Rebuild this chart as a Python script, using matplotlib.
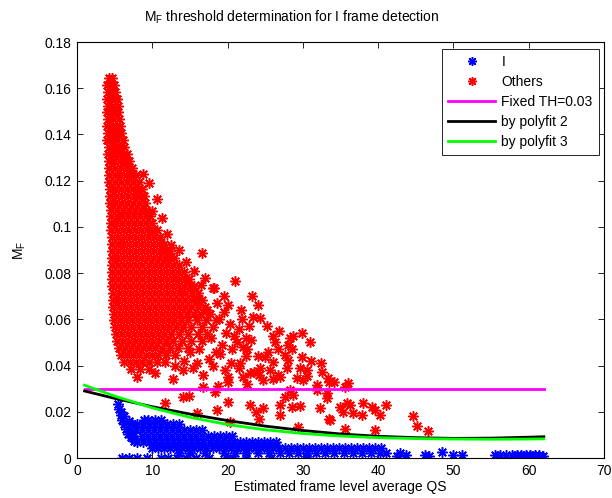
import numpy as np
import matplotlib
matplotlib.use("Agg")
import matplotlib.pyplot as plt

plt.rcParams['font.family'] = ['Liberation Sans', 'DejaVu Sans']
plt.rcParams['font.size'] = 10
plt.rcParams['mathtext.default'] = 'regular'

# ---- "Others" : dense core, one list of x per row level ----
others_row_y = [0.1645, 0.1615, 0.1585, 0.1555, 0.1525, 0.1495, 0.1465, 0.1435,
                0.1405, 0.1375, 0.1345, 0.1315, 0.1285, 0.1255, 0.1225, 0.1195,
                0.1165, 0.1135, 0.1105, 0.1075, 0.1045, 0.1015, 0.0985, 0.0955,
                0.0925, 0.0895, 0.0865, 0.0835, 0.0805, 0.0775, 0.0745, 0.0715,
                0.0685, 0.0655, 0.0625, 0.0595, 0.0565, 0.0535, 0.0505, 0.0475,
                0.0445, 0.0415, 0.0385]
others_row_x = [
    [4.2, 4.6],
    [4.0, 4.5, 4.9],
    [4.1, 4.6, 5.0],
    [4.0, 4.5, 5.0, 5.3],
    [4.1, 4.7, 5.4],
    [4.0, 4.6, 5.1, 5.5],
    [4.1, 4.8, 5.6],
    [4.0, 4.6, 5.2, 5.7],
    [4.1, 4.8, 5.4, 5.9],
    [4.0, 4.7, 5.3, 6.1],
    [4.2, 4.9, 5.6, 6.3],
    [4.1, 4.8, 5.5, 6.1, 6.6],
    [4.2, 4.9, 5.7, 6.4, 6.9],
    [4.2, 5.0, 5.8, 6.6, 7.3],
    [4.3, 5.0, 5.7, 6.5, 7.2, 7.8],
    [4.3, 5.1, 5.9, 6.7, 7.5, 8.3],
    [4.4, 5.1, 5.9, 6.6, 7.4, 8.1, 8.6],
    [4.4, 5.2, 6.0, 6.8, 7.6, 8.3, 8.9],
    [4.4, 5.1, 5.9, 6.7, 7.5, 8.3, 9.0],
    [4.5, 5.3, 6.1, 6.9, 7.7, 8.5, 9.2],
    [4.5, 5.3, 6.0, 6.8, 7.6, 8.4, 9.1, 9.7],
    [4.5, 5.2, 6.0, 6.8, 7.6, 8.4, 9.2, 10.0],
    [4.5, 5.3, 6.1, 6.9, 7.7, 8.5, 9.3, 10.0, 10.6],
    [4.6, 5.4, 6.2, 7.0, 7.8, 8.6, 9.4, 10.2, 11.0],
    [4.6, 5.4, 6.1, 6.9, 7.7, 8.5, 9.3, 10.1, 10.9, 11.6],
    [4.6, 5.4, 6.2, 7.0, 7.8, 8.6, 9.4, 10.2, 11.0, 11.7, 12.3],
    [4.6, 5.3, 6.1, 6.9, 7.7, 8.5, 9.3, 10.1, 10.9, 11.7, 12.4, 12.9],
    [4.7, 5.5, 6.3, 7.1, 7.9, 8.7, 9.5, 10.3, 11.1, 11.9, 12.7, 13.5],
    [4.7, 5.4, 6.2, 7.0, 7.8, 8.6, 9.4, 10.2, 11.0, 11.8, 12.6, 13.4, 14.2],
    [4.7, 5.5, 6.3, 7.1, 7.9, 8.7, 9.5, 10.3, 11.1, 11.9, 12.7, 13.5, 14.3, 14.9],
    [4.7, 5.4, 6.2, 7.0, 7.8, 8.6, 9.4, 10.2, 11.0, 11.8, 12.6, 13.4, 14.2, 15.0, 15.5],
    [4.8, 5.6, 6.4, 7.2, 8.0, 8.8, 9.6, 10.4, 11.2, 12.0, 12.8, 13.6, 14.4, 15.3, 16.1],
    [4.8, 5.5, 6.3, 7.1, 7.9, 8.7, 9.5, 10.3, 11.1, 11.9, 12.7, 13.5, 14.3, 15.1, 16.0, 16.6],
    [4.8, 5.6, 6.4, 7.2, 8.0, 8.8, 9.6, 10.4, 11.2, 12.0, 12.8, 13.6, 14.4, 15.2, 16.1, 17.0],
    [4.9, 5.7, 6.5, 7.3, 8.1, 8.9, 9.7, 10.5, 11.3, 12.1, 12.9, 13.7, 14.6, 15.5, 16.5, 17.6],
    [4.9, 5.7, 6.5, 7.3, 8.1, 8.9, 9.7, 10.5, 11.3, 12.1, 12.9, 13.8, 14.8, 15.9, 17.1, 18.4],
    [5.0, 5.8, 6.6, 7.4, 8.2, 9.0, 9.8, 10.6, 11.4, 12.2, 13.1, 14.1, 15.2, 16.6, 18.0],
    [5.2, 6.0, 6.8, 7.6, 8.4, 9.2, 10.0, 10.8, 11.6, 12.5, 13.5, 14.7, 16.1, 17.3],
    [5.3, 6.1, 6.9, 7.7, 8.5, 9.3, 10.1, 10.9, 11.8, 12.8, 13.9, 15.1, 16.6],
    [5.6, 6.4, 7.2, 8.0, 8.8, 9.6, 10.4, 11.3, 12.3, 13.4, 14.8],
    [5.9, 6.7, 7.5, 8.3, 9.1, 9.9, 10.8, 11.8, 13.0],
    [6.3, 7.1, 7.9, 8.7, 9.6, 10.6, 11.7],
    [7.2, 8.4, 9.6],
]

# ---- "Others" : scattered points outside the core ----
others_sparse_x = [8.8, 9.5, 10.0, 11.3, 12.0, 10.6, 12.5, 13.5, 16.6, 18.2, 21.0, 14.5, 15.5,
                   17.0, 16.5, 23.2, 24.0, 23.4, 24.3, 18.6, 18.1, 19.5, 20.3, 21.5, 22.4,
                   20.8, 19.2, 26.0, 28.7, 30.9, 29.9, 26.3, 28.3, 28.0, 28.5, 26.7, 27.6,
                   29.9, 25.0, 26.0, 24.3, 25.6, 27.0, 27.9, 29.6, 30.5, 30.0, 29.2, 30.6,
                   32.5, 33.3, 33.5, 31.9, 36.0, 35.6, 28.3, 28.7, 31.9, 33.2, 33.2, 27.6,
                   22.6, 23.1, 21.6, 23.0, 24.7, 20.1, 12.8, 14.1, 15.4, 16.7, 18.7, 20.0,
                   21.5, 22.4, 17.5, 19.0, 20.5, 23.5, 15.0, 18.0, 22.0, 8.0, 10.4,
                   11.7, 14.1, 14.9, 16.0, 16.7, 18.3, 18.6, 20.1, 20.3, 23.0, 23.8, 24.7,
                   27.0, 27.0, 28.5, 29.6, 24.2, 32.3, 33.5, 29.4, 34.9, 35.3, 36.2, 36.6,
                   35.8, 38.0, 37.8, 39.2, 39.6, 40.2, 41.1, 35.6, 39.6, 44.6, 45.1, 46.6,
                   33.6, 34.1, 31.1, 32.4, 26.7, 28.0,
                   13.2, 14.0, 15.8, 17.3, 18.9, 19.8, 21.2, 17.8, 16.2, 18.5, 20.6, 22.0,
                   24.0, 25.4, 21.9, 22.8, 25.2, 26.8, 20.0, 21.8, 19.5, 14.2, 13.0, 16.0,
                   19.6, 24.2, 26.0, 22.6]
others_sparse_y = [0.123, 0.119, 0.107, 0.104, 0.097, 0.112, 0.092, 0.090, 0.0887, 0.0736, 0.0766, 0.085, 0.081,
                   0.078, 0.075, 0.070, 0.066, 0.061, 0.0605, 0.067, 0.0735, 0.063, 0.058, 0.056, 0.052,
                   0.053, 0.049, 0.053, 0.053, 0.050, 0.054, 0.050, 0.052, 0.049, 0.047, 0.047, 0.0446,
                   0.0437, 0.0437, 0.0415, 0.039, 0.038, 0.035, 0.039, 0.039, 0.038, 0.0338, 0.0346, 0.0355,
                   0.037, 0.0346, 0.033, 0.0316, 0.0324, 0.0307, 0.0294, 0.0274, 0.0294, 0.028, 0.026, 0.0264,
                   0.047, 0.051, 0.041, 0.0368, 0.0338, 0.035, 0.034, 0.038, 0.039, 0.036, 0.031, 0.033,
                   0.039, 0.044, 0.043, 0.045, 0.041, 0.037, 0.046, 0.040, 0.035, 0.035, 0.0368,
                   0.0238, 0.0264, 0.027, 0.0195, 0.0307, 0.0286, 0.0208, 0.0242, 0.0156, 0.023, 0.020, 0.0216,
                   0.023, 0.0188, 0.022, 0.0225, 0.0169, 0.0216, 0.0169, 0.0134, 0.022, 0.020, 0.023, 0.0195,
                   0.024, 0.0238, 0.0188, 0.022, 0.0207, 0.0186, 0.023, 0.0126, 0.0121, 0.018, 0.0139, 0.0117,
                   0.0164, 0.033, 0.042, 0.041, 0.036, 0.0425,
                   0.078, 0.072, 0.069, 0.064, 0.060, 0.054, 0.050, 0.052, 0.047, 0.046, 0.047, 0.048,
                   0.044, 0.046, 0.060, 0.057, 0.057, 0.055, 0.066, 0.064, 0.070, 0.042, 0.040, 0.041,
                   0.038, 0.036, 0.034, 0.032]

# ---- "I" frames ----
i_head_x = [5.4, 5.6, 5.8, 6.0, 6.2, 6.5, 6.8, 7.2, 5.9, 6.3, 6.9, 7.6]
i_head_y = [0.0235, 0.021, 0.0185, 0.0165, 0.0145, 0.0125, 0.0105, 0.009, 0.020, 0.018, 0.016, 0.0075]

i_row_y = [0.0165, 0.0145, 0.0120, 0.0095, 0.0070, 0.0045, 0.0022]
i_row_x = [
    [8.9, 9.4, 10.4, 11.2],
    [7.3, 8.0, 8.8, 9.6, 10.4, 11.2, 12.0, 12.8, 13.6],
    [7.0, 7.8, 8.6, 9.4, 10.2, 11.0, 11.8, 12.6, 13.4, 14.2, 15.0, 15.8, 16.6],
    [7.4, 8.6, 9.4, 10.2, 11.0, 11.8, 12.6, 13.4, 14.2, 15.0, 15.8, 16.6, 17.4, 18.2, 19.0, 19.8, 20.6],
    [8.0, 8.8, 9.6, 10.4, 11.2, 12.0, 12.8, 13.6, 14.4, 15.2, 16.0, 16.8, 17.6, 18.4, 19.2, 20.0,
     20.8, 21.6, 22.4, 23.2, 24.0, 24.8, 25.6, 26.4],
    [10.0, 10.8, 11.6, 12.4, 13.2, 14.0, 14.8, 15.6, 16.4, 17.2, 18.0, 18.8, 19.6, 20.4, 21.2, 22.0,
     22.8, 23.6, 24.4, 25.2, 26.0, 26.8, 27.6, 28.4, 29.2, 30.0, 30.8, 31.6, 32.4, 33.2, 34.0, 34.8,
     35.6, 36.4, 37.2, 38.0, 38.8, 39.6, 40.4],
    [13.5, 15.0, 17.0, 19.5, 21.0, 22.5, 24.0, 25.5, 27.0, 28.2, 29.4, 30.6, 31.8, 33.0, 34.2, 35.4,
     36.6, 37.8, 39.0, 40.2, 41.0],
]

i_tail_x = [42.5, 42.9, 43.7, 46.2, 46.8, 48.5, 50.0, 51.2, 55.5, 56.2, 57.0, 57.8, 58.4, 59.0,
            59.6, 60.2, 60.8, 61.4, 61.9, 58.8, 60.5, 61.6]
i_tail_y = [0.0010, 0.0020, 0.0015, 0.0013, 0.0010, 0.0026, 0.0013, 0.0013, 0.0012, 0.0012, 0.0013, 0.0012,
            0.0014, 0.0012, 0.0013, 0.0012, 0.0014, 0.0012, 0.0010, 0.0006, 0.0006, 0.0005]

i_zero_x = [6.0, 6.9, 8.0, 9.3, 11.1, 12.1, 13.3, 14.5, 15.8, 17.5, 19.9, 20.7, 22.5, 25.8, 30.6]
i_zero_y = [0.0] * len(i_zero_x)

# ---- threshold lines ----
fixed_x = [1, 62]
fixed_y = [0.03, 0.03]
fit_x = [1, 5, 10, 15, 20, 25, 30, 35, 40, 45, 50, 55, 60, 62]
poly2_y = [0.0290, 0.0258, 0.0222, 0.0190, 0.0162, 0.0138, 0.0119, 0.0104, 0.0094, 0.0088, 0.0085,
           0.0086, 0.0090, 0.0092]
poly3_y = [0.0315, 0.0268, 0.0217, 0.0176, 0.0145, 0.0122, 0.0106, 0.0095, 0.0088, 0.0084, 0.0082,
           0.0081, 0.0082, 0.0083]

others_x = [x for xs in others_row_x for x in xs] + others_sparse_x
others_y = [y for y, xs in zip(others_row_y, others_row_x) for _ in xs] + others_sparse_y
i_x = i_head_x + [x for xs in i_row_x for x in xs] + i_tail_x + i_zero_x
i_y = i_head_y + [y for y, xs in zip(i_row_y, i_row_x) for _ in xs] + i_tail_y + i_zero_y

star = (8, 2, 0)

fig = plt.figure(figsize=(6.12, 4.98), dpi=100)
ax = fig.add_axes([77 / 612, 40 / 498, 527 / 612, 416 / 498])

ax.plot(i_x, i_y, linestyle="none", marker=star, markersize=7.5, markeredgewidth=1.1,
        color=(0, 0, 1), label="I")
ax.plot(others_x, others_y, linestyle="none", marker=star, markersize=7.5, markeredgewidth=1.1,
        color=(1, 0, 0), label="Others")
ax.plot(fixed_x, fixed_y, color=(1, 0, 1), lw=2, label="Fixed TH=0.03")
ax.plot(fit_x, poly2_y, color="black", lw=2, label="by polyfit 2")
ax.plot(fit_x, poly3_y, color=(0, 1, 0), lw=2, label="by polyfit 3")

ax.set_xlim(0, 70)
ax.set_ylim(0, 0.18)
ax.set_xticks(np.arange(0, 71, 10))
ax.set_yticks(np.arange(0, 0.181, 0.02))
ax.set_yticklabels(["0", "0.02", "0.04", "0.06", "0.08", "0.1", "0.12", "0.14", "0.16", "0.18"])
ax.tick_params(direction="in", top=True, right=True, length=4, width=0.6, pad=4)
for s in ax.spines.values():
    s.set_linewidth(0.8)

ax.set_xlabel("Estimated frame level average QS", labelpad=2)
ax.set_ylabel("M$_F$", labelpad=12)
ax.text((292 - 77) / 527, (458 - 22) / 416, "M$_F$ threshold determination for I frame detection",
        transform=ax.transAxes, ha="center", va="baseline")

leg = ax.legend(loc="upper right", bbox_to_anchor=(0.9905, 0.983), borderaxespad=0, numpoints=1,
                handlelength=3.4, handletextpad=0.45, labelspacing=0.42, fancybox=False,
                framealpha=1, edgecolor="black", borderpad=0.45, markerscale=0.85)
leg.get_frame().set_linewidth(0.6)

fig.savefig("out.png", dpi=100)
